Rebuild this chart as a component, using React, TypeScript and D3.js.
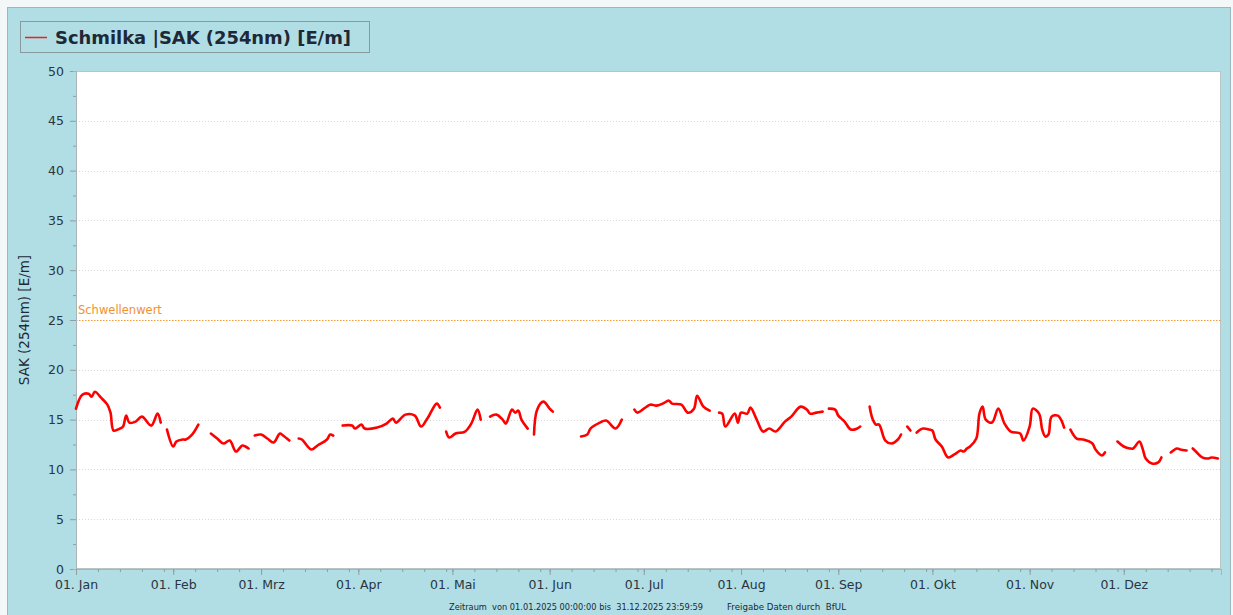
import React, { useEffect, useRef } from 'react';
import * as d3 from 'd3';

// SAK (254nm) daily values Schmilka 2025, null = no data
const sakDates: (string | null)[] = [
  '01-01', '01-03', '01-05', '01-06', '01-07', '01-09', '01-11', '01-12', '01-13', '01-15', '01-16', '01-17', '01-18', '01-20', '01-22', '01-25', '01-27', '01-28',
  null,
  '01-30', '02-01', '02-02', '02-04', '02-05', '02-07', '02-09',
  null,
  '02-13', '02-15', '02-17', '02-19', '02-21', '02-23', '02-24', '02-25',
  null,
  '02-27', '03-01', '03-03', '03-05', '03-07', '03-08', '03-10',
  null,
  '03-13', '03-14', '03-17', '03-19', '03-22', '03-23', '03-24',
  null,
  '03-27', '03-30', '03-31', '04-02', '04-03', '04-07', '04-10', '04-12', '04-13', '04-16', '04-19', '04-21', '04-23', '04-26', '04-27',
  null,
  '04-29', '04-30', '05-02', '05-05', '05-07', '05-09', '05-10',
  null,
  '05-13', '05-15', '05-17', '05-18', '05-20', '05-21', '05-22', '05-23', '05-25',
  null,
  '05-27', '05-28', '05-30', '06-01', '06-02',
  null,
  '06-11', '06-13', '06-14', '06-17', '06-19', '06-22', '06-24',
  null,
  '06-28', '06-29', '07-03', '07-05', '07-07', '07-09', '07-10', '07-13', '07-15', '07-17', '07-18', '07-20', '07-22',
  null,
  '07-25', '07-26', '07-27', '07-30', '07-31', '08-01', '08-03', '08-04', '08-06', '08-08', '08-10', '08-12', '08-15', '08-17', '08-20', '08-22', '08-23', '08-25', '08-27',
  null,
  '08-29', '08-31', '09-01', '09-03', '09-05', '09-07', '09-08',
  null,
  '09-11', '09-12', '09-13', '09-14', '09-16', '09-18', '09-20', '09-21',
  null,
  '09-23', '09-24',
  null,
  '09-26', '09-28', '09-30', '10-01', '10-02', '10-04', '10-06', '10-08', '10-10', '10-11', '10-12', '10-13', '10-15', '10-16', '10-17', '10-18', '10-20', '10-22', '10-24', '10-26', '10-29', '10-30', '11-01', '11-02', '11-04', '11-05', '11-06', '11-07', '11-08', '11-10', '11-11', '11-12',
  null,
  '11-14', '11-16', '11-18', '11-21', '11-22', '11-24', '11-25',
  null,
  '11-29', '12-01', '12-03', '12-04', '12-06', '12-07', '12-08', '12-10', '12-12', '12-13',
  null,
  '12-16', '12-18', '12-19', '12-21',
  null,
  '12-23', '12-24', '12-26', '12-28', '12-29', '12-31',
];

const sakValues: (number | null)[] = [
  16.1, 17.5, 17.6, 17.3, 17.8, 17.2, 16.5, 15.7, 13.9, 14.1, 14.3, 15.4, 14.7, 14.8, 15.3, 14.4, 15.6, 14.7,
  null,
  14.0, 12.3, 12.8, 13.0, 13.0, 13.5, 14.5,
  null,
  13.6, 13.1, 12.6, 12.9, 11.8, 12.4, 12.3, 12.1,
  null,
  13.4, 13.5, 13.1, 12.7, 13.6, 13.4, 12.9,
  null,
  13.1, 13.0, 12.0, 12.4, 13.0, 13.5, 13.4,
  null,
  14.4, 14.4, 14.1, 14.5, 14.1, 14.2, 14.6, 15.1, 14.7, 15.5, 15.4, 14.3, 15.1, 16.6, 16.2,
  null,
  13.8, 13.2, 13.6, 13.8, 14.6, 16.0, 15.0,
  null,
  15.3, 15.5, 15.0, 14.6, 16.0, 15.7, 15.9, 15.0, 14.1,
  null,
  13.5, 16.0, 16.8, 16.1, 15.8,
  null,
  13.3, 13.5, 14.1, 14.7, 14.9, 14.1, 15.0,
  null,
  16.0, 15.7, 16.5, 16.4, 16.6, 16.9, 16.6, 16.5, 15.7, 16.1, 17.4, 16.3, 15.9,
  null,
  15.7, 15.6, 14.3, 15.6, 14.7, 15.7, 15.6, 16.2, 15.0, 13.8, 14.1, 13.8, 14.8, 15.3, 16.3, 16.0, 15.6, 15.7, 15.8,
  null,
  16.1, 16.0, 15.4, 14.8, 14.0, 14.1, 14.3,
  null,
  16.3, 15.0, 14.5, 14.5, 12.9, 12.6, 13.0, 13.5,
  null,
  14.3, 13.9,
  null,
  13.7, 14.1, 14.0, 13.9, 13.0, 12.3, 11.2, 11.5, 11.9, 11.8, 12.1, 12.3, 13.1, 15.6, 16.3, 15.0, 14.7, 16.1, 14.6, 13.8, 13.6, 12.9, 14.3, 16.1, 15.6, 14.0, 13.3, 13.5, 15.3, 15.4, 15.0, 14.2,
  null,
  14.0, 13.1, 13.0, 12.6, 12.0, 11.4, 11.7,
  null,
  12.8, 12.3, 12.1, 12.1, 12.8, 12.1, 11.1, 10.6, 10.7, 11.2,
  null,
  11.7, 12.1, 12.0, 11.9,
  null,
  12.1, 11.8, 11.2, 11.1, 11.2, 11.1,
];

const yTicks = [0, 5, 10, 15, 20, 25, 30, 35, 40, 45, 50];
const monthLabels = ['Jan', 'Feb', 'Mrz', 'Apr', 'Mai', 'Jun', 'Jul', 'Aug', 'Sep', 'Okt', 'Nov', 'Dez'];
const threshold = 25;
const thresholdLabel = 'Schwellenwert';
const legendLabel = 'Schmilka |SAK (254nm) [E/m]';
const yTitle = 'SAK (254nm) [E/m]';
const footerPeriod = 'Zeitraum  von 01.01.2025 00:00:00 bis  31.12.2025 23:59:59';
const footerSource = 'Freigabe Daten durch  BfUL';

const W = 1233;
const H = 615;
const FONT = 'Tahoma, "DejaVu Sans", sans-serif';

const App = () => {
  const ref = useRef<SVGSVGElement>(null);

  useEffect(() => {
    const svg = d3.select(ref.current);
    svg.selectAll('*').remove();

    const margin = { top: 71, right: 12, bottom: 46, left: 76 };
    const parse = d3.timeParse('%Y-%m-%d');

    const x = d3.scaleTime()
      .domain([new Date(2025, 0, 1), new Date(2026, 0, 1)])
      .range([margin.left, W - margin.right]);
    const y = d3.scaleLinear()
      .domain([0, 50])
      .range([H - margin.bottom, margin.top]);

    // background panel
    svg.append('rect').attr('width', W).attr('height', H).attr('fill', '#f4f7f7');
    svg.append('rect')
      .attr('x', 7.5).attr('y', 7.5)
      .attr('width', W - 10).attr('height', H + 10)
      .attr('fill', '#b0dee4').attr('stroke', '#9fb6ba');

    // plot area
    svg.append('rect')
      .attr('x', margin.left).attr('y', margin.top)
      .attr('width', W - margin.right - margin.left)
      .attr('height', H - margin.bottom - margin.top)
      .attr('fill', '#fff');

    // gridlines
    svg.append('g')
      .selectAll('line')
      .data(yTicks.filter(d => d > 0))
      .enter().append('line')
      .attr('x1', margin.left).attr('x2', W - margin.right)
      .attr('y1', d => Math.round(y(d)) + 0.5).attr('y2', d => Math.round(y(d)) + 0.5)
      .attr('stroke', '#d9d9d9').attr('stroke-dasharray', '1,2');

    // plot border
    svg.append('rect')
      .attr('x', margin.left + 0.5).attr('y', margin.top + 0.5)
      .attr('width', W - margin.right - margin.left - 1)
      .attr('height', H - margin.bottom - margin.top - 1)
      .attr('fill', 'none').attr('stroke', '#b8c4c6');

    // threshold
    svg.append('line')
      .attr('x1', margin.left).attr('x2', W - margin.right)
      .attr('y1', Math.round(y(threshold)) + 0.5).attr('y2', Math.round(y(threshold)) + 0.5)
      .attr('stroke', '#f39a3c').attr('stroke-width', 1.2).attr('stroke-dasharray', '1.5,1.5');
    svg.append('text')
      .attr('x', margin.left + 2).attr('y', y(threshold) - 6)
      .attr('font-family', FONT).attr('font-size', 11.5)
      .attr('fill', '#f0922e')
      .text(thresholdLabel);

    // y axis
    const yAxis = svg.append('g')
      .attr('transform', `translate(${margin.left},0)`)
      .call(d3.axisLeft(y).tickValues(yTicks).tickSize(6).tickPadding(6));
    yAxis.append('g').call(d3.axisLeft(y).tickValues(d3.range(2.5, 50, 5)).tickSize(3).tickFormat(() => ''));
    yAxis.selectAll('path').attr('stroke', '#a9b4b6');
    yAxis.selectAll('line').attr('stroke', '#8e9ea1');
    yAxis.selectAll('text')
      .attr('font-family', FONT).attr('font-size', 12.5).attr('fill', '#2b3440');

    // x axis
    const months = d3.timeMonth.range(new Date(2025, 0, 1), new Date(2026, 0, 1));
    const weeks = d3.timeDay.every(7)!.range(new Date(2025, 0, 1), new Date(2026, 0, 1));
    const xAxis = svg.append('g')
      .attr('transform', `translate(0,${H - margin.bottom})`)
      .call(d3.axisBottom(x).tickValues(months).tickSize(6).tickPadding(5)
        .tickFormat((d, i) => `01. ${monthLabels[i]}`));
    xAxis.append('g').call(d3.axisBottom(x).tickValues(weeks).tickSize(3).tickFormat(() => ''));
    xAxis.selectAll('path').attr('stroke', '#a9b4b6');
    xAxis.selectAll('line').attr('stroke', '#8e9ea1');
    xAxis.selectAll('text')
      .attr('font-family', FONT).attr('font-size', 12.5).attr('fill', '#2b3440');

    // y title
    svg.append('text')
      .attr('transform', `translate(29,${(margin.top + H - margin.bottom) / 2}) rotate(-90)`)
      .attr('text-anchor', 'middle')
      .attr('font-family', FONT).attr('font-size', 13.5).attr('fill', '#1f2a36')
      .text(yTitle);

    // series
    const points = sakValues.map((v, i) => ({
      date: sakDates[i] ? parse(`2025-${sakDates[i]}`) : null,
      value: v,
    }));
    const line = d3.line<{ date: Date | null; value: number | null }>()
      .defined(d => d.value !== null && d.date !== null)
      .x(d => x(d.date as Date))
      .y(d => y(d.value as number))
      .curve(d3.curveCatmullRom.alpha(0.5));
    svg.append('path')
      .datum(points)
      .attr('d', line)
      .attr('fill', 'none')
      .attr('stroke', '#ff0000')
      .attr('stroke-width', 2.6)
      .attr('stroke-linejoin', 'round')
      .attr('stroke-linecap', 'round');

    // legend
    const legend = svg.append('g');
    legend.append('rect')
      .attr('x', 20.5).attr('y', 21.5).attr('width', 349).attr('height', 31)
      .attr('fill', 'none').attr('stroke', '#889a9d');
    legend.append('line')
      .attr('x1', 25).attr('x2', 47).attr('y1', 37.5).attr('y2', 37.5)
      .attr('stroke', '#ff1a1a').attr('stroke-width', 1.5);
    legend.append('text')
      .attr('x', 55).attr('y', 44)
      .attr('font-family', FONT).attr('font-size', 17).attr('font-weight', 'bold')
      .attr('fill', '#1e2836')
      .attr('textLength', 296).attr('lengthAdjust', 'spacingAndGlyphs')
      .text(legendLabel);

    // footer
    svg.append('text')
      .attr('x', 449).attr('y', 610)
      .attr('font-family', FONT).attr('font-size', 8.5).attr('fill', '#1e2836')
      .attr('textLength', 254).attr('lengthAdjust', 'spacingAndGlyphs')
      .attr('xml:space', 'preserve')
      .text(footerPeriod);
    svg.append('text')
      .attr('x', 727).attr('y', 610)
      .attr('font-family', FONT).attr('font-size', 8.5).attr('fill', '#1e2836')
      .attr('textLength', 119).attr('lengthAdjust', 'spacingAndGlyphs')
      .attr('xml:space', 'preserve')
      .text(footerSource);
  }, []);

  return (
    <svg
      ref={ref}
      width={W}
      height={H}
      style={{ position: 'absolute', left: 0, top: 0, display: 'block' }}
    />
  );
};

export default App;
